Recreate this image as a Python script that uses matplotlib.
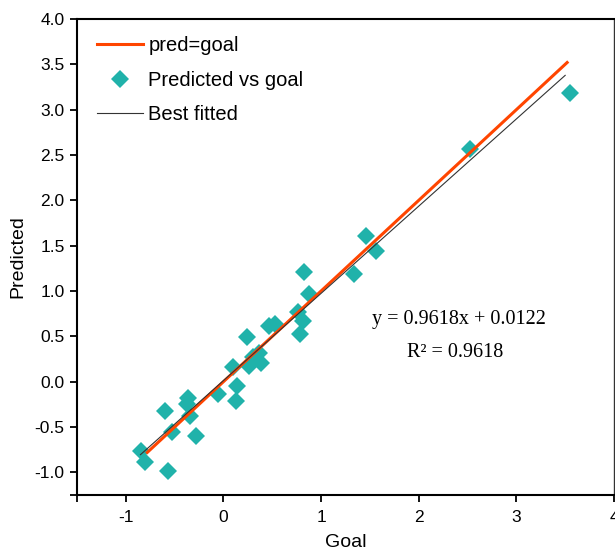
import matplotlib
matplotlib.use("Agg")
import matplotlib.pyplot as plt
import numpy as np

# Data
goal = [-0.84, -0.80, -0.57, -0.60, -0.53, -0.28, -0.36, -0.37, -0.34, -0.06,
        0.14, 0.13, 0.10, 0.24, 0.30, 0.26, 0.38, 0.36, 0.47, 0.525,
        0.76, 0.81, 0.785, 0.82, 0.88, 1.34, 1.46, 1.56, 2.53, 3.55]
predicted = [-0.765, -0.89, -0.99, -0.32, -0.555, -0.60, -0.175, -0.25, -0.38, -0.14,
             -0.05, -0.21, 0.16, 0.49, 0.27, 0.17, 0.21, 0.32, 0.615, 0.635,
             0.77, 0.67, 0.53, 1.21, 0.965, 1.185, 1.605, 1.44, 2.565, 3.18]

slope = 0.9618
intercept = 0.0122
r2 = 0.9618
pred_goal_range = [-0.78, 3.52]
fit_range = [-0.85, 3.50]

xticks = [-1, 0, 1, 2, 3, 4]
yticks = [-1.0, -0.5, 0.0, 0.5, 1.0, 1.5, 2.0, 2.5, 3.0, 3.5, 4.0]

plt.rcParams['font.family'] = ['Liberation Sans', 'DejaVu Sans']

fig = plt.figure(figsize=(6.15, 5.5), dpi=100)
ax = fig.add_axes([77/615, 55/550, 537/615, 476/550])

# pred = goal line
xr = np.array(pred_goal_range)
ax.plot(xr, xr, color='#FF4500', lw=2.2, label='pred=goal', zorder=3)
# scatter
ax.plot(goal, predicted, linestyle='none', marker='D', markersize=9.5,
        color='#20B2AA', markeredgewidth=0, label='Predicted vs goal', zorder=2)
# best fit
xf = np.array(fit_range)
ax.plot(xf, slope * xf + intercept, color='#333333', lw=0.8, label='Best fitted', zorder=4)

ax.set_xlim(-1.5, 4.0)
ax.set_ylim(-1.25, 4.0)
ax.set_xticks([-1.5] + xticks)
ax.set_xticklabels([''] + [str(t) for t in xticks])
ax.set_yticks([-1.25] + yticks)
ax.set_yticklabels([''] + ['%.1f' % t for t in yticks])
ax.tick_params(direction='out', length=5, width=1.3, labelsize=12.5, pad=4, colors='black')
ax.tick_params(axis='x', pad=6)
for s in ['left', 'bottom', 'top']:
    ax.spines[s].set_linewidth(1.5)
ax.spines['right'].set_linewidth(1.0)
ax.spines['right'].set_color('#333333')

ax.set_xlabel('Goal', fontsize=14, labelpad=6)
ax.set_ylabel('Predicted', fontsize=14, labelpad=6)

handles, labels = ax.get_legend_handles_labels()
leg = ax.legend(handles, labels, loc='upper left', frameon=False, fontsize=14.5,
                bbox_to_anchor=(0.0, 1.006), borderaxespad=0.3, handlelength=2.3,
                handletextpad=0.25, labelspacing=0.77, borderpad=0.7, numpoints=1)

ax.text(0.711, 0.368, 'y = 0.9618x + 0.0122', transform=ax.transAxes,
        ha='center', va='center', fontsize=14.5, family='Liberation Serif')
ax.text(0.704, 0.300, 'R² = 0.9618', transform=ax.transAxes,
        ha='center', va='center', fontsize=14.5, family='Liberation Serif')

fig.savefig('out.png', dpi=100)
